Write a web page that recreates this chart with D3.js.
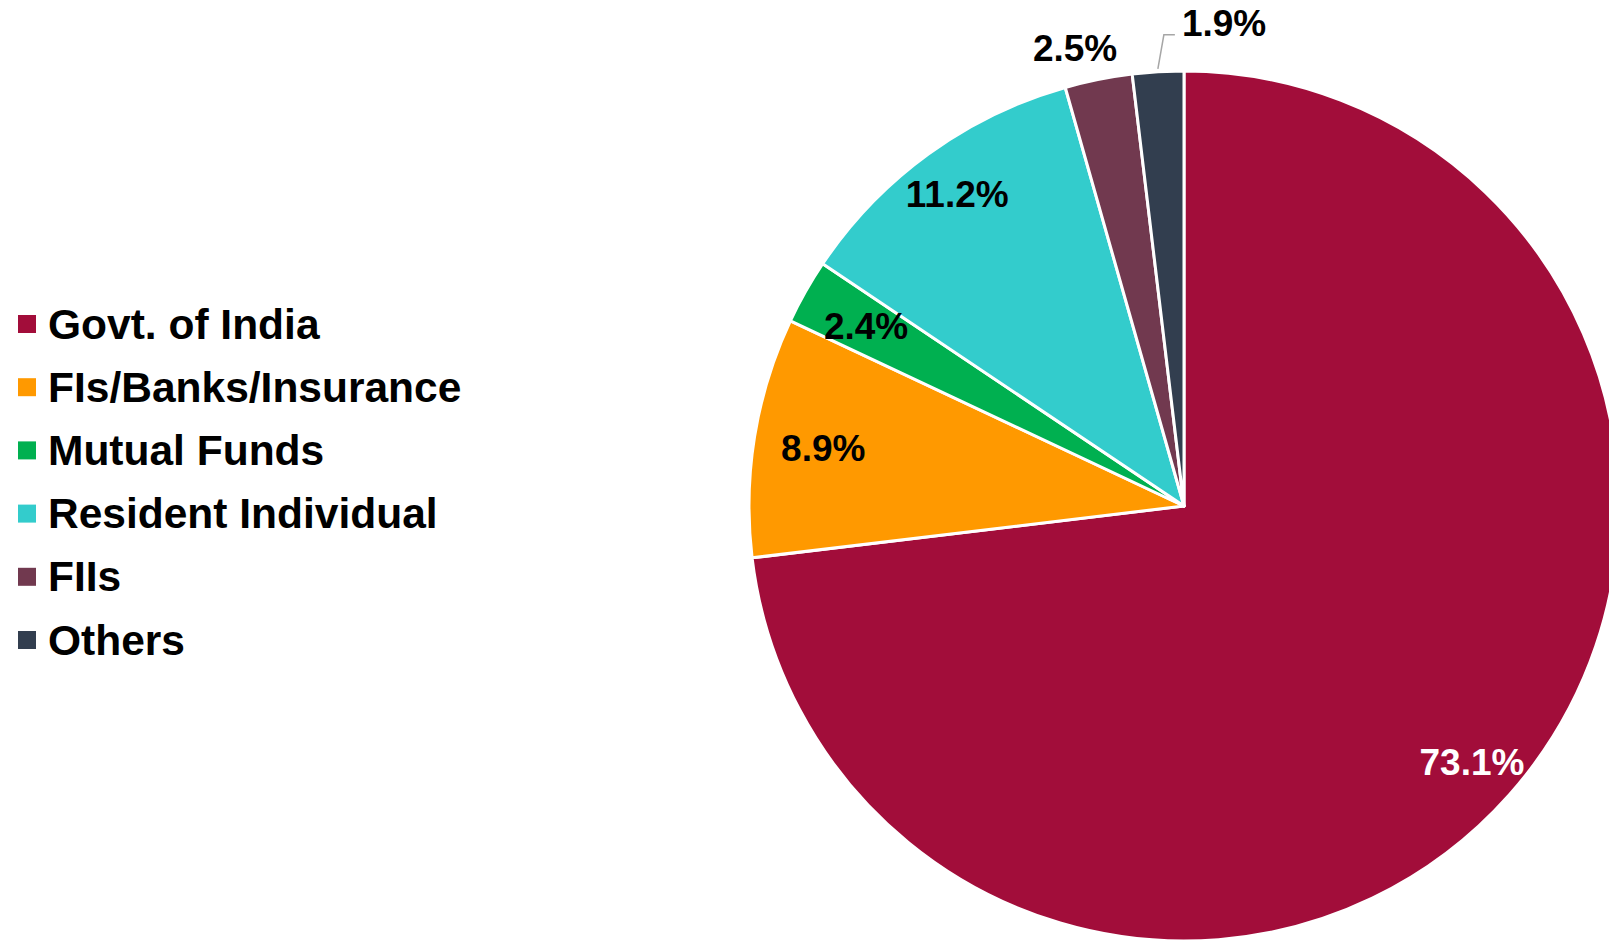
<!DOCTYPE html>
<html>
<head>
<meta charset="utf-8">
<script src="https://cdn.jsdelivr.net/npm/d3@7"></script>
<style>
  html, body { margin: 0; padding: 0; background: #fff; overflow: hidden; }
  svg { display: block; font-family: "Liberation Sans", Arial, sans-serif; font-weight: bold; }
</style>
</head>
<body>
<svg width="1609" height="942"></svg>
<script>
// data
const categories = ["Govt. of India", "FIs/Banks/Insurance", "Mutual Funds", "Resident Individual", "FIIs", "Others"];
const shares = [73.1, 8.9, 2.4, 11.2, 2.5, 1.9];
const colors = ["#A20D3A", "#FF9900", "#00B050", "#33CCCC", "#71394F", "#323E4F"];
const labelColors = ["#ffffff", "#000000", "#000000", "#000000", "#000000", "#000000"];

let svg = d3.select("svg"),
  width = +svg.attr("width"),
  height = +svg.attr("height");

// pie geometry
const cx = 1184, cy = 506, radius = 435;

// label placement (radius factor + nudges), outside labels for the small slices at top
const labelRadius = [0.885, 0.84, 0.84, 0.887, 1.075, 1.14];
const labelNudge = [[0, 0], [0, 0], [0, 0], [0, 0], [-17, 0], [0, 0]];

const pieData = d3.pie().sort(null).value((d) => d)(shares);
const arc = d3.arc().innerRadius(0).outerRadius(radius);

const g = svg.append("g").attr("transform", `translate(${cx},${cy})`);

g.selectAll("path.slice")
  .data(pieData)
  .enter()
  .append("path")
  .attr("class", "slice")
  .attr("d", arc)
  .attr("fill", (d, i) => colors[i])
  .attr("stroke", "#fff")
  .attr("stroke-width", 3)
  .attr("stroke-linejoin", "round");

// data labels
const labelSize = 37;
pieData.forEach((d, i) => {
  const mid = (d.startAngle + d.endAngle) / 2;
  const r = radius * labelRadius[i];
  let x = Math.sin(mid) * r + labelNudge[i][0];
  let y = -Math.cos(mid) * r + labelNudge[i][1];
  let anchor = "middle";

  if (i === categories.length - 1) {
    // leader line for the last small slice
    const x0 = Math.sin(mid) * (radius + 3);
    const y0 = -Math.cos(mid) * (radius + 3);
    const x1 = x0 + 6, y1 = -Math.cos(mid) * (radius + 37);
    const x2 = x1 + 11;
    g.append("polyline")
      .attr("points", [[x0, y0], [x1, y1], [x2, y1]].map((p) => p.join(",")).join(" "))
      .attr("fill", "none")
      .attr("stroke", "#A6A6A6")
      .attr("stroke-width", 1.5);
    x = x2 + 7;
    y = y1 - 12;
    anchor = "start";
  }

  g.append("text")
    .attr("x", x)
    .attr("y", y + labelSize * 0.358)
    .attr("text-anchor", anchor)
    .attr("fill", labelColors[i])
    .style("font-size", labelSize + "px")
    .text(d3.format(".1f")(shares[i]) + "%");
});

// legend
const legendY = d3.scalePoint().domain(categories).range([324, 640]);
const legend = svg.append("g");
categories.forEach((c, i) => {
  const y = legendY(c);
  legend.append("rect")
    .attr("x", 18)
    .attr("y", y - 9)
    .attr("width", 18)
    .attr("height", 18)
    .attr("fill", colors[i]);
  legend.append("text")
    .attr("x", 48)
    .attr("y", y + 14.5)
    .attr("fill", "#000")
    .style("font-size", "42.5px")
    .text(c);
});
</script>
</body>
</html>
